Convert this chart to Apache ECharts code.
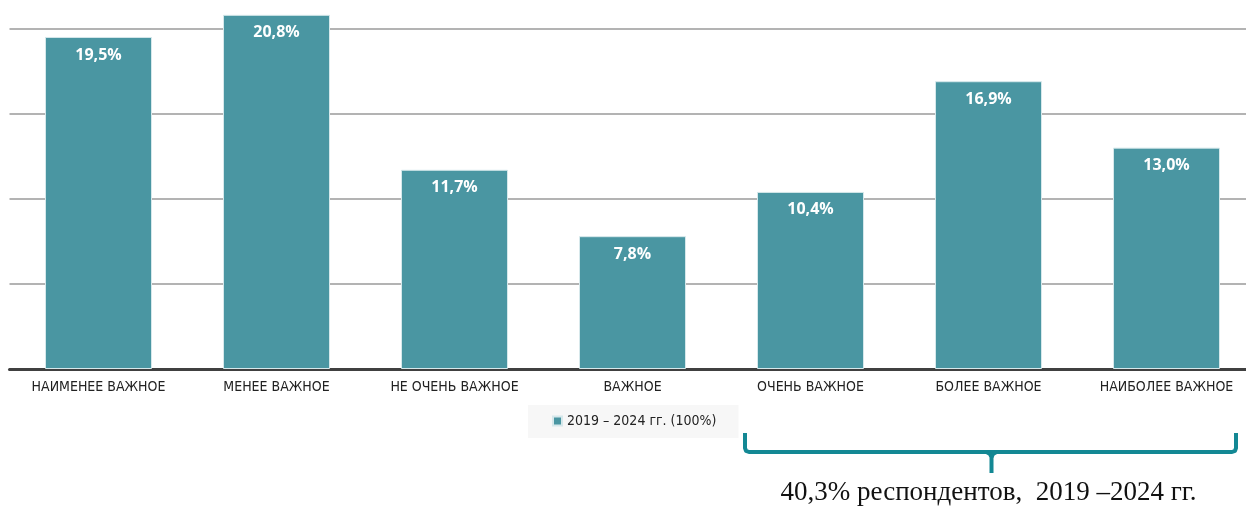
<!DOCTYPE html>
<html><head><meta charset="utf-8">
<script src="https://cdn.jsdelivr.net/npm/echarts@6/dist/echarts.min.js"></script>
<style>html,body{margin:0;padding:0;background:#fff}#c{width:1246px;height:507px}</style>
</head><body><div id="c"></div>
<script>
var categories = ['НАИМЕНЕЕ ВАЖНОЕ','МЕНЕЕ ВАЖНОЕ','НЕ ОЧЕНЬ ВАЖНОЕ','ВАЖНОЕ','ОЧЕНЬ ВАЖНОЕ','БОЛЕЕ ВАЖНОЕ','НАИБОЛЕЕ ВАЖНОЕ'];
var values = [19.5, 20.8, 11.7, 7.8, 10.4, 16.9, 13.0];
var seriesName = '2019 – 2024 гг. (100%)';
var braceText = '40,3% респондентов,  2019 –2024 гг.';
var braceFrom = 4, braceTo = 6;

var chart = echarts.init(document.getElementById('c'));
var condensed = '"Liberation Sans Narrow","DejaVu Sans Condensed","Roboto",sans-serif';
chart.setOption({
  animation: false,
  grid: {left: 9.5, right: -9.5, top: 0, height: 369, containLabel: false, outerBoundsMode: 'none'},
  legend: {
    data: [seriesName], left: 528, top: 405,
    padding: [9, 22, 10, 24], backgroundColor: '#f7f7f7',
    itemWidth: 9, itemHeight: 9, itemGap: 5, icon: 'rect',
    textStyle: {fontFamily: condensed, fontSize: 14, color: '#222'}
  },
  xAxis: {
    type: 'category', data: categories,
    axisLine: {lineStyle: {color: '#404040', width: 3}},
    axisTick: {show: false},
    axisLabel: {fontFamily: condensed, fontSize: 14, color: '#222', margin: 11, interval: 0}
  },
  yAxis: {
    type: 'value', min: 0, max: 21.67, interval: 5,
    axisLabel: {show: false}, axisLine: {show: false}, axisTick: {show: false},
    splitLine: {lineStyle: {color: '#b3b3b3', width: 2}}
  },
  series: [{
    name: seriesName, type: 'bar', data: values, barWidth: 107,
    itemStyle: {color: '#4a96a2', borderColor: '#d6e8eb', borderWidth: 1},
    label: {
      show: true, position: 'insideTop', distance: 10,
      formatter: function(p){ return p.value.toFixed(1).replace('.', ',') + '%'; },
      color: '#fff', fontWeight: 'bold', fontSize: 16, fontFamily: '"Open Sans","DejaVu Sans",sans-serif'
    }
  }]
});

var x1 = chart.convertToPixel({xAxisIndex: 0}, braceFrom) - 53.5 - 12;
var x2 = chart.convertToPixel({xAxisIndex: 0}, braceTo) + 53.5 + 16;
var xm = (x1 + x2) / 2 + 1;
var yTop = 433, yLine = 452, yBot = 473, r = 4;
var pts = [[x1, yTop], [x1, yLine - r], [x1 + 1, yLine - 1.2], [x1 + r, yLine],
  [x2 - r, yLine], [x2 - 1, yLine - 1.2], [x2, yLine - r], [x2, yTop]];
chart.setOption({
  graphic: [
    {type: 'rect', shape: {x: 0, y: 0, width: 1246, height: 2}, style: {fill: '#fff'}, z: 100},
    {type: 'polyline', shape: {points: pts}, style: {fill: null, stroke: '#138894', lineWidth: 4, lineJoin: 'round'}},
    {type: 'polyline', shape: {points: [[xm - 5, yLine], [xm - 1.5, yLine + 2], [xm, yLine + 5], [xm, yBot]]}, style: {fill: null, stroke: '#138894', lineWidth: 4}},
    {type: 'polyline', shape: {points: [[xm + 5, yLine], [xm + 1.5, yLine + 2], [xm, yLine + 5]]}, style: {fill: null, stroke: '#138894', lineWidth: 4}},
    {type: 'text', x: xm - 3, y: 493, style: {text: braceText, fill: '#111', font: '27px "Liberation Serif","DejaVu Serif",serif', align: 'center', verticalAlign: 'middle'}}
  ]
});
</script></body></html>
